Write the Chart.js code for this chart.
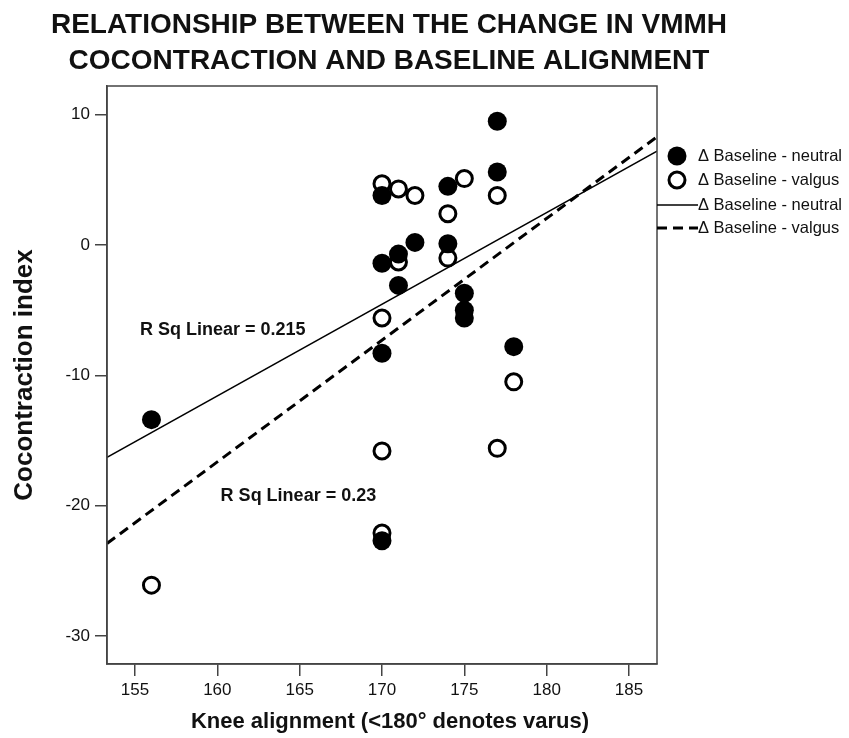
<!DOCTYPE html>
<html>
<head>
<meta charset="utf-8">
<title>VMMH cocontraction vs baseline alignment</title>
<script src="https://cdn.jsdelivr.net/npm/chart.js@4.4.1/dist/chart.umd.min.js"></script>
<style>
    html, body { margin: 0; padding: 0; background: #fff; }
    canvas { display: block; }
</style>
</head>
<body>
<canvas id="chart" width="849" height="738"></canvas>
<script>
// Δ Baseline - neutral (filled circles)
const neutralAlign  = [177, 177, 170, 174, 172, 174, 170, 171, 171, 175, 175, 175, 170, 178, 156, 170];
const neutralChange = [9.5, 5.6, 3.8, 4.5, 0.2, 0.1, -1.4, -0.7, -3.1, -3.7, -5.0, -5.6, -8.3, -7.8, -13.4, -22.7];

// Δ Baseline - valgus (open circles)
const valgusAlign  = [177, 170, 171, 172, 175, 174, 174, 171, 170, 178, 156, 170, 177, 170];
const valgusChange = [3.8, 4.7, 4.3, 3.8, 5.1, 2.4, -1.0, -1.3, -5.6, -10.5, -26.1, -15.8, -15.6, -22.1];

// fit lines, read at both ends of the x range
const fitAlign   = [153.3, 186.7];
const neutralFit = [-16.3, 7.2];
const valgusFit  = [-22.9, 8.3];

const rSquared = ["R Sq Linear = 0.215", "R Sq Linear = 0.23"];
const xTicks = [155, 160, 165, 170, 175, 180, 185];
const yTicks = [-30, -20, -10, 0, 10];

const chartTitle = ["RELATIONSHIP BETWEEN THE CHANGE IN VMMH", "COCONTRACTION AND BASELINE ALIGNMENT"];
const xTitle = "Knee alignment (<180° denotes varus)";
const seriesLabel = "\u0394 Baseline - ";

const FONT = '"Liberation Sans", Arial, Helvetica, sans-serif';
const INK = "#111";
const AXIS = "#444";

const toPoints = (xs, ys) => xs.map((x, i) => ({ x: x, y: ys[i] }));

// title, frame, x title, legend and R² notes
const decorations = {
    id: "decorations",
    afterDraw(chart) {
        const ctx = chart.ctx;
        const area = chart.chartArea;
        const xs = chart.scales.x;
        const ys = chart.scales.y;
        ctx.save();

        // frame top + right
        ctx.strokeStyle = AXIS;
        ctx.lineWidth = 1.5;
        ctx.strokeRect(area.left, area.top, area.right - area.left, area.bottom - area.top);

        // main title
        ctx.fillStyle = INK;
        ctx.font = `bold 28px ${FONT}`;
        ctx.textAlign = "center";
        ctx.textBaseline = "alphabetic";
        ctx.fillText(chartTitle[0], 389, 33);
        ctx.fillText(chartTitle[1], 389, 69);

        // x axis title (sits a bit right of the plot centre in the original)
        ctx.font = `bold 22px ${FONT}`;
        ctx.textBaseline = "middle";
        ctx.fillText(xTitle, 390, 722);

        // R squared notes
        ctx.font = `bold 18px ${FONT}`;
        ctx.textAlign = "left";
        ctx.fillText(rSquared[0], xs.getPixelForValue(155.3), ys.getPixelForValue(-6.5));
        ctx.fillText(rSquared[1], xs.getPixelForValue(160.2), ys.getPixelForValue(-19.25));

        // legend
        const rows = [156, 180, 205, 228];
        ctx.font = `16.5px ${FONT}`;
        chart.data.datasets.forEach((d, i) => {
            const y = rows[i];
            ctx.fillStyle = "#000";
            ctx.strokeStyle = "#000";
            if (d.showLine) {
                ctx.lineWidth = d.borderWidth;
                ctx.setLineDash(d.borderDash || []);
                ctx.beginPath();
                ctx.moveTo(area.right, y);
                ctx.lineTo(698, y);
                ctx.stroke();
                ctx.setLineDash([]);
            } else {
                ctx.beginPath();
                ctx.arc(677, y, d.pointRadius, 0, Math.PI * 2);
                ctx.fillStyle = d.pointBackgroundColor;
                ctx.fill();
                if (d.pointBorderWidth) {
                    ctx.lineWidth = d.pointBorderWidth;
                    ctx.stroke();
                }
            }
            ctx.fillStyle = INK;
            ctx.fillText(d.label, 698, y);
        });

        ctx.restore();
    },
};

new Chart(document.getElementById("chart"), {
    type: "scatter",
    data: {
        datasets: [
            {
                label: seriesLabel + "neutral",
                data: toPoints(neutralAlign, neutralChange),
                pointRadius: 9.5,
                pointBorderWidth: 0,
                pointBackgroundColor: "#000",
                pointBorderColor: "#000",
            },
            {
                label: seriesLabel + "valgus",
                data: toPoints(valgusAlign, valgusChange),
                pointRadius: 8,
                pointBorderWidth: 3,
                pointBackgroundColor: "#fff",
                pointBorderColor: "#000",
            },
            {
                label: seriesLabel + "neutral",
                data: toPoints(fitAlign, neutralFit),
                showLine: true,
                borderColor: "#000",
                borderWidth: 1.5,
                pointRadius: 0,
            },
            {
                label: seriesLabel + "valgus",
                data: toPoints(fitAlign, valgusFit),
                showLine: true,
                borderColor: "#000",
                borderWidth: 3,
                borderDash: [10, 6],
                pointRadius: 0,
            },
        ],
    },
    options: {
        responsive: false,
        animation: false,
        devicePixelRatio: 1,
        layout: { padding: { top: 86, right: 192, left: 0, bottom: 0 } },
        plugins: {
            legend: { display: false },
            tooltip: { enabled: false },
        },
        scales: {
            x: {
                type: "linear",
                min: fitAlign[0],
                max: fitAlign[1],
                afterFit: (s) => { s.height = 74; },
                afterBuildTicks: (s) => { s.ticks = xTicks.map((v) => ({ value: v })); },
                border: { display: true, color: AXIS, width: 1.5 },
                grid: { drawOnChartArea: false, drawTicks: true, tickLength: 12, color: AXIS, lineWidth: 1.5 },
                ticks: { color: INK, padding: 4, font: { family: FONT, size: 17 } },
                title: { display: false },
            },
            y: {
                type: "linear",
                min: -32.15,
                max: 12.2,
                afterFit: (s) => { s.width = 107; },
                afterBuildTicks: (s) => { s.ticks = yTicks.map((v) => ({ value: v })); },
                border: { display: true, color: AXIS, width: 1.5 },
                grid: { drawOnChartArea: false, drawTicks: true, tickLength: 12, color: AXIS, lineWidth: 1.5 },
                ticks: { color: INK, padding: 5, font: { family: FONT, size: 17 } },
                title: {
                    display: true,
                    text: "Cocontraction index",
                    color: INK,
                    font: { family: FONT, size: 26, weight: "bold" },
                    padding: { top: 9, bottom: 0 },
                },
            },
        },
    },
    plugins: [decorations],
});
</script>
</body>
</html>
